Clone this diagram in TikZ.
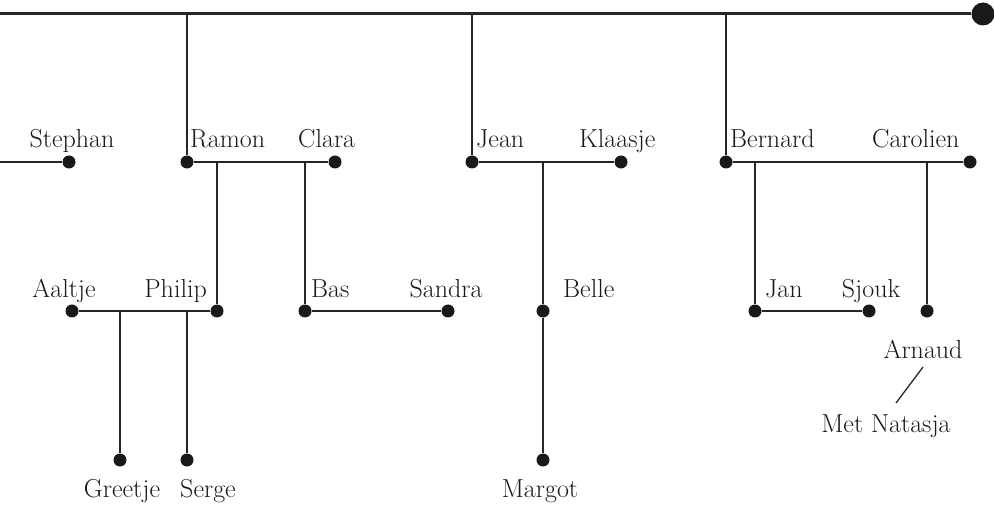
\documentclass[tikz,border=0pt]{standalone}
\begin{document}
\begin{tikzpicture}[x=1pt,y=-1pt,
  dot/.style={circle,fill=black!90,inner sep=0pt,minimum size=13pt},
  bigdot/.style={circle,fill=black!90,inner sep=0pt,minimum size=23pt},
  lbl/.style={font=\fontsize{26}{31}\selectfont,inner sep=0pt,text=black!90},
  ln/.style={line width=1.8pt,draw=black!85},
  topln/.style={line width=3pt,draw=black!85}]
\useasboundingbox (0,0) rectangle (994,505);
% top line
\coordinate (L0) at (0,14);
\node[bigdot] (top) at (983,14) {};
\coordinate (t1) at (187,14);
\coordinate (t2) at (472,14);
\coordinate (t3) at (726,14);
\draw[topln] (L0) -- (top);
% row 1 dots
\coordinate (S0) at (0,162);
\node[dot] (stephan) at (69,162) {};
\node[dot] (ramon) at (187,162) {};
\node[dot] (clara) at (335,162) {};
\node[dot] (jean) at (472,162) {};
\node[dot] (klaasje) at (621,162) {};
\node[dot] (bernard) at (726,162) {};
\node[dot] (carolien) at (970,162) {};
\draw[ln] (t1) -- (ramon);
\draw[ln] (t2) -- (jean);
\draw[ln] (t3) -- (bernard);
\draw[ln] (S0) -- (stephan);
\draw[ln] (ramon) -- (clara);
\draw[ln] (jean) -- (klaasje);
\draw[ln] (bernard) -- (carolien);
% row 1 labels
\node[lbl,anchor=base] at (72,148) {Stephan};
\node[lbl,anchor=base west] at (190,148) {Ramon};
\node[lbl,anchor=base west] at (298,148) {Clara};
\node[lbl,anchor=base west] at (476,148) {Jean};
\node[lbl,anchor=base west] at (579,148) {Klaasje};
\node[lbl,anchor=base west] at (730,148) {Bernard};
\node[lbl,anchor=base west] at (872,148) {Carolien};
% row 2
\coordinate (c1) at (217,162);
\coordinate (c2) at (305,162);
\coordinate (c3) at (543,162);
\coordinate (c4) at (755,162);
\coordinate (c5) at (927,162);
\node[dot] (aaltje) at (72,311) {};
\node[dot] (philip) at (217,311) {};
\node[dot] (bas) at (305,311) {};
\node[dot] (sandra) at (448,311) {};
\node[dot] (belle) at (543,311) {};
\node[dot] (jan) at (755,311) {};
\node[dot] (sjouk) at (869,311) {};
\node[dot] (arnaud) at (927,311) {};
\draw[ln] (c1) -- (philip);
\draw[ln] (c2) -- (bas);
\draw[ln] (c3) -- (belle);
\draw[ln] (c4) -- (jan);
\draw[ln] (c5) -- (arnaud);
\draw[ln] (aaltje) -- (philip);
\draw[ln] (bas) -- (sandra);
\draw[ln] (jan) -- (sjouk);
\node[lbl,anchor=base] at (64,298) {Aaltje};
\node[lbl,anchor=base east] at (207,298) {Philip};
\node[lbl,anchor=base west] at (311,298) {Bas};
\node[lbl,anchor=base] at (446,298) {Sandra};
\node[lbl,anchor=base west] at (563,298) {Belle};
\node[lbl,anchor=base west] at (765,298) {Jan};
\node[lbl,anchor=base] at (871,298) {Sjouk};
\node[lbl,anchor=base] at (923,358) {Arnaud};
\coordinate (s1) at (923,367);
\coordinate (s2) at (896,403);
\draw[line width=1.3pt,draw=black!85] (s1) -- (s2);
\node[lbl,anchor=base] at (886,432) {Met Natasja};
% row 3
\coordinate (d1) at (120,311);
\coordinate (d2) at (187,311);
\node[dot] (greetje) at (120,460) {};
\node[dot] (serge) at (187,460) {};
\node[dot] (margot) at (543,460) {};
\draw[ln] (d1) -- (greetje);
\draw[ln] (d2) -- (serge);
\draw[ln] (belle) -- (margot);
\node[lbl,anchor=base] at (122,497) {Greetje};
\node[lbl,anchor=base] at (208,497) {Serge};
\node[lbl,anchor=base] at (540,497) {Margot};
\end{tikzpicture}
\end{document}
